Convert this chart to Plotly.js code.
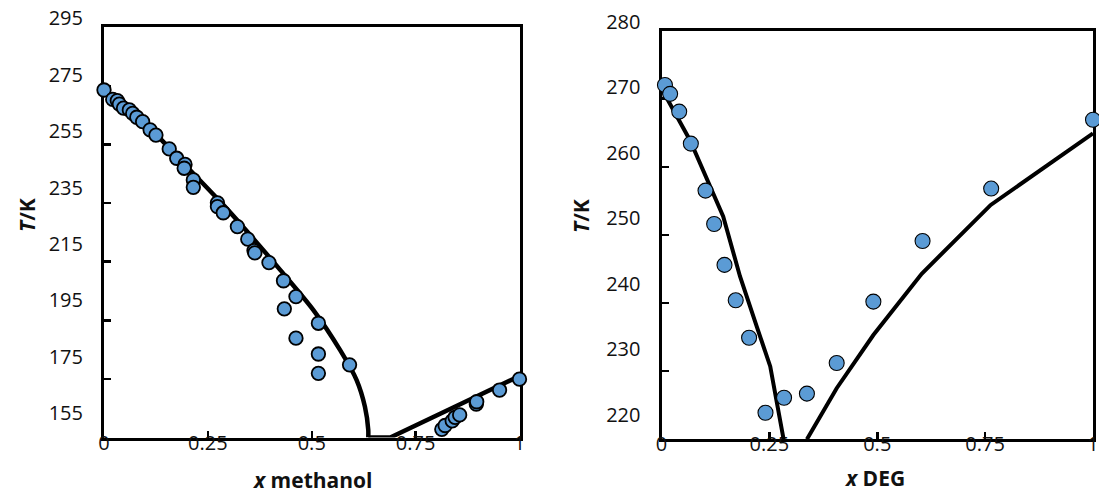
<!DOCTYPE html>
<html><head><meta charset="utf-8">
<script src="https://cdn.plot.ly/plotly-3.0.1.min.js"></script>
<style>html,body{margin:0;padding:0;background:#fff;} #chart{width:1099px;height:495px;}</style>
</head><body><div id="chart"></div>
<script>
// ---------- data: water + methanol ----------
const methanolX = [0, 0.021, 0.032, 0.037, 0.047, 0.061, 0.069, 0.079, 0.093, 0.111, 0.125, 0.157, 0.175, 0.195, 0.193, 0.215, 0.215, 0.273, 0.273, 0.287, 0.321, 0.346, 0.361, 0.363, 0.397, 0.432, 0.462, 0.434, 0.516, 0.462, 0.516, 0.516, 0.591, 0.813, 0.821, 0.838, 0.845, 0.856, 0.896, 0.897, 0.952, 1.0];
const methanolT = [273.6, 270.4, 270.0, 268.8, 267.4, 266.8, 265.6, 264.3, 262.8, 260.0, 258.2, 253.5, 250.3, 248.2, 246.9, 242.9, 240.4, 235.1, 233.8, 231.7, 227.0, 222.7, 218.8, 218.0, 214.7, 208.5, 203.1, 198.9, 194.0, 188.9, 183.5, 176.9, 179.8, 157.8, 159.1, 160.7, 161.9, 162.7, 166.4, 167.2, 171.2, 174.9];
const methIceLineX = [0, 0.1, 0.2, 0.287, 0.344, 0.424, 0.504, 0.568, 0.608, 0.628, 0.636, 0.636];
const methIceLineT = [273.2, 262.0, 247.3, 234.4, 225.4, 212.2, 198.5, 184.9, 174.6, 165.5, 157.6, 155];
const methSolLineX = [0.636, 0.689, 1.0];
const methSolLineT = [155, 155, 176.0];
const methYTicks = [155, 175, 195, 215, 235, 255, 275, 295];
const methYTickText = ['155', '175', '195', '215', '235', '255', '275', '295'];

// ---------- data: water + DEG ----------
const degX = [0.008, 0.020, 0.041, 0.068, 0.102, 0.122, 0.146, 0.172, 0.203, 0.241, 0.284, 0.337, 0.406, 0.491, 0.605, 0.764, 1.0];
const degT = [272.0, 270.7, 268.1, 263.4, 256.5, 251.6, 245.6, 240.4, 234.9, 223.9, 226.1, 226.7, 231.2, 240.2, 249.1, 256.8, 266.9];
const degIceLineX = [0, 0.066, 0.143, 0.182, 0.221, 0.252, 0.283];
const degIceLineT = [271.5, 263.9, 252.7, 243.9, 236.5, 230.7, 220];
const degSolLineX = [0.337, 0.406, 0.491, 0.603, 0.763, 1.0];
const degSolLineT = [220, 227.5, 235.3, 244.3, 254.4, 264.9];
const degYTicks = [220, 230, 240, 250, 260, 270, 280];
const degYTickText = ['220', '230', '240', '250', '260', '270', '280'];

// ---------- shared x ticks ----------
const xTicks = [0, 0.25, 0.5, 0.75, 1];
const xTickText = ['0', '0.25', '0.5', '0.75', '1'];

// ---------- layout helpers ----------
const W = 1099, H = 495;
const FONT = 'Open Sans, sans-serif';
const fx = p => p / W;
const fy = p => 1 - p / H;
// label-axis range so that labels land at their measured pixel rows
function labelRange(vTop, pTop, vBot, pBot) {
  const k = (pBot - pTop) / (vTop - vBot);
  return [vBot - (H - pBot) / k, vTop + pTop / k];
}
const tickFont = {family: FONT, size: 20, color: '#111'};
const titleFont = {family: FONT, size: 21, color: '#111'};
const markerBlue = '#5B9BD5';

function mainX(domain, anchor) {
  return {domain, anchor, range: [0, 1], tickvals: xTicks, ticktext: xTickText,
    ticks: 'inside', ticklen: 7, tickwidth: 2.5, tickcolor: '#000',
    showline: true, linecolor: '#000', linewidth: 3, mirror: true,
    showgrid: false, zeroline: false, layer: 'below traces',
    tickfont: tickFont, ticklabelstandoff: -15, fixedrange: true};
}
function mainY(domain, anchor, range, ticks) {
  return {domain, anchor, range, tickvals: ticks, showticklabels: false,
    ticks: 'inside', ticklen: 7, tickwidth: 2.5, tickcolor: '#000',
    showline: true, linecolor: '#000', linewidth: 3, mirror: true,
    showgrid: false, zeroline: false, layer: 'below traces', fixedrange: true};
}
function labelY(anchor, range, ticks, text) {
  return {domain: [0, 1], anchor, range, tickvals: ticks, ticktext: text,
    ticks: '', showline: false, showgrid: false, zeroline: false,
    tickfont: tickFont, ticklabelstandoff: 20, fixedrange: true};
}

const traces = [
  {x: methIceLineX, y: methIceLineT, xaxis: 'x', yaxis: 'y', mode: 'lines',
   line: {color: '#000', width: 4.5, shape: 'spline', smoothing: 0.8}, hoverinfo: 'skip'},
  {x: methSolLineX, y: methSolLineT, xaxis: 'x', yaxis: 'y', mode: 'lines',
   line: {color: '#000', width: 4.5}, hoverinfo: 'skip'},
  {x: methanolX, y: methanolT, xaxis: 'x', yaxis: 'y', mode: 'markers', cliponaxis: false,
   marker: {size: 13.5, color: markerBlue, line: {color: '#000', width: 1.8}}},
  {x: degIceLineX, y: degIceLineT, xaxis: 'x2', yaxis: 'y2', mode: 'lines',
   line: {color: '#000', width: 4}, hoverinfo: 'skip'},
  {x: degSolLineX, y: degSolLineT, xaxis: 'x2', yaxis: 'y2', mode: 'lines',
   line: {color: '#000', width: 4}, hoverinfo: 'skip'},
  {x: degX, y: degT, xaxis: 'x2', yaxis: 'y2', mode: 'markers', cliponaxis: false,
   marker: {size: 15, color: markerBlue, line: {color: '#000', width: 1.1}}},
  // carriers for the label axes
  {x: [null], y: [null], xaxis: 'x', yaxis: 'y3', mode: 'markers', hoverinfo: 'skip'},
  {x: [null], y: [null], xaxis: 'x2', yaxis: 'y4', mode: 'markers', hoverinfo: 'skip'}
];

const layout = {
  width: W, height: H,
  margin: {l: 0, r: 0, t: 0, b: 0},
  paper_bgcolor: '#fff', plot_bgcolor: 'rgba(0,0,0,0)',
  showlegend: false,
  font: {family: FONT, color: '#111'},
  xaxis: mainX([fx(104), fx(519.5)], 'y'),
  yaxis: mainY([fy(437.5), fy(27.3)], 'x', [155, 295], methYTicks),
  yaxis3: labelY('x', labelRange(295, 18.3, 155, 413.3), methYTicks, methYTickText),
  xaxis2: mainX([fx(661.5), fx(1093)], 'y2'),
  yaxis2: mainY([fy(439.3), fy(30.5)], 'x2', [220, 280], degYTicks),
  yaxis4: labelY('x2', labelRange(280, 21.7, 220, 415), degYTicks, degYTickText),
  annotations: [
    {text: '<b><i>x</i> methanol</b>', xref: 'paper', yref: 'paper', x: fx(311.5), y: fy(480),
     showarrow: false, xanchor: 'center', yanchor: 'middle', font: titleFont},
    {text: '<b><i>x</i> DEG</b>', xref: 'paper', yref: 'paper', x: fx(874), y: fy(478),
     showarrow: false, xanchor: 'center', yanchor: 'middle', font: titleFont},
    {text: '<b><i>T</i>/K</b>', xref: 'paper', yref: 'paper', x: fx(27), y: fy(215), textangle: -90,
     showarrow: false, xanchor: 'center', yanchor: 'middle', font: titleFont},
    {text: '<b><i>T</i>/K</b>', xref: 'paper', yref: 'paper', x: fx(581), y: fy(216), textangle: -90,
     showarrow: false, xanchor: 'center', yanchor: 'middle', font: titleFont}
  ]
};

Plotly.newPlot('chart', traces, layout, {staticPlot: true, displayModeBar: false});
</script>
</body></html>
